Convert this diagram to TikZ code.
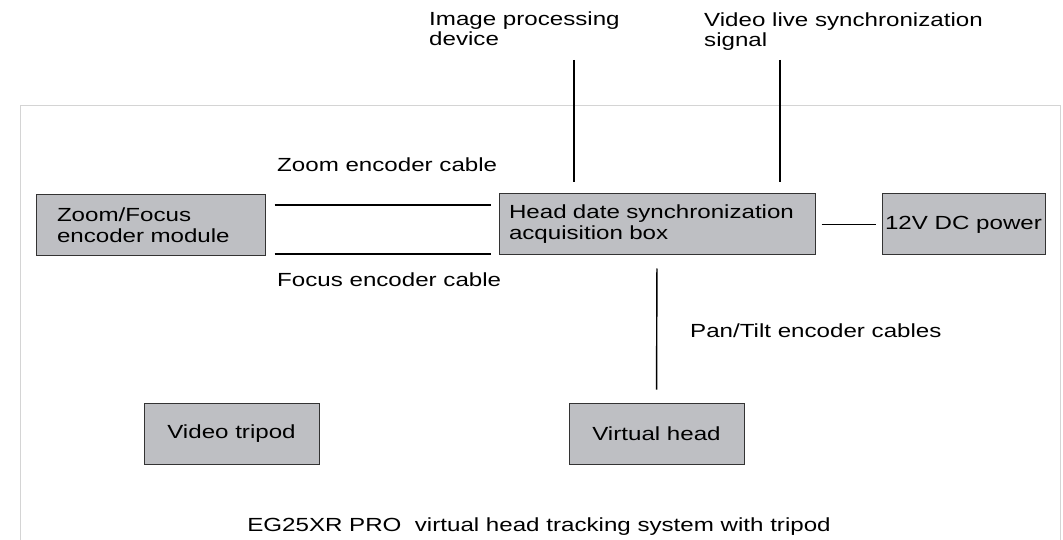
\documentclass[tikz,border=0pt]{standalone}
\usepackage{fontspec}
\setmainfont{Liberation Sans}[FakeStretch=1.27]
\definecolor{boxfill}{HTML}{BEBFC3}
\definecolor{boxline}{HTML}{333333}
\definecolor{framegray}{HTML}{D4D4D4}
\tikzset{
  blk/.style={draw=boxline, fill=boxfill, line width=1pt, inner ysep=0pt, minimum height=61pt, font=\fontsize{19}{21}\selectfont},
  cable/.style={draw=black, line width=1.4pt},
  lbl/.style={inner sep=0pt, font=\fontsize{19}{19.5}\selectfont, align=left},
}
\begin{document}
\begin{tikzpicture}[x=1pt,y=-1pt]
\useasboundingbox (0,0) rectangle (1063,540);
% frame
\draw[framegray, line width=1pt] (20,545) -- (20,106) -- (1060,106) -- (1060,545);
% boxes
\node[blk, align=left, text width=187pt, inner xsep=21pt, minimum width=229pt] (zf) at (150.5,225) {Zoom/Focus\\encoder module};
\node[blk, align=left, text width=296pt, inner xsep=10pt, minimum width=316pt, xshift=3pt] (head) at (654,224.5) {Head date synchronization\\acquisition box};
\node[blk, align=center, minimum width=163pt, inner xsep=2pt] (pwr) at (963.5,224.5) {12V DC power};
\node[blk, align=center, minimum width=175pt] (tripod) at (231.5,433.5) {Video tripod};
\node[blk, align=center, minimum width=175pt] (vhead) at (656.5,433.5) {Virtual head};
% labels
\node[lbl, anchor=base west] (zlab) at (277,172) {Zoom encoder cable};
\node[lbl, anchor=base west] (flab) at (277,287) {Focus encoder cable};
\node[lbl, anchor=base west] (iplab) at (429,45.5) {Image processing\\device};
\node[lbl, anchor=base west] (vllab) at (704,46.5) {Video live synchronization\\signal};
\node[lbl, anchor=base west] (ptlab) at (690,337) {Pan/Tilt encoder cables};
\node[lbl, anchor=base] (title) at (539,531) {EG25XR PRO\ \ virtual head tracking system with tripod};
% helper coordinates
\coordinate (yz) at (0,205);
\coordinate (yf) at (0,254);
\coordinate (ip) at (574,60);
\coordinate (vl) at (780,60);
% connectors
\draw[cable, shorten <=9pt, shorten >=8pt] (zf.east |- yz) -- (head.west |- yz);
\draw[cable, shorten <=9pt, shorten >=8pt] (zf.east |- yf) -- (head.west |- yf);
\draw[cable, shorten <=6pt, shorten >=6pt] (head.east) -- (pwr.west);
\draw[cable, shorten >=11pt] (ip) -- (ip |- head.north);
\draw[cable, shorten >=11pt] (vl) -- (vl |- head.north);
\draw[cable, shorten <=13pt, shorten >=13pt] (head.south) -- (vhead.north);
\end{tikzpicture}
\end{document}
